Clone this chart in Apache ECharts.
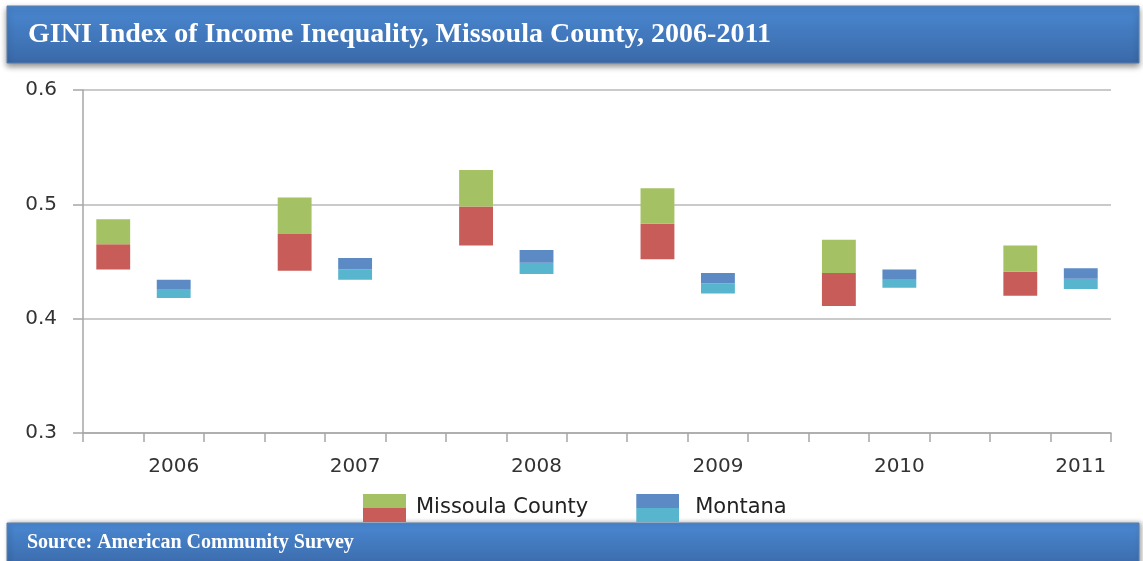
<!DOCTYPE html>
<html lang="en">
<head>
    <meta charset="UTF-8">
    <title>GINI Index of Income Inequality</title>
    <style type="text/css">
        html, body{
            margin: 0;
            padding: 0;
            background-color: #ffffff;
        }
        #gini{
            width: 1143px;
            height: 561px;
        }
    </style>
</head>
<body>
<div id="gini"></div>
</body>
<script src="https://cdn.jsdelivr.net/npm/echarts@6/dist/echarts.min.js"></script>

<script type="text/javascript">
    var years = ['2006', '2007', '2008', '2009', '2010', '2011'];

    // margin of error range: low / estimate / high
    var missoulaLow  = [0.443, 0.442, 0.464, 0.452, 0.411, 0.420];
    var missoulaEst  = [0.465, 0.474, 0.498, 0.483, 0.440, 0.441];
    var missoulaHigh = [0.487, 0.506, 0.530, 0.514, 0.469, 0.464];

    var montanaLow  = [0.418, 0.434, 0.439, 0.422, 0.427, 0.426];
    var montanaEst  = [0.426, 0.443, 0.449, 0.431, 0.434, 0.435];
    var montanaHigh = [0.434, 0.453, 0.460, 0.440, 0.443, 0.444];

    var yTicks = {min: 0.3, max: 0.6, interval: 0.1};

    // each year gets 3 slots: missoula, montana (labelled), empty gap
    var cats = [];
    var mBase = [], mRed = [], mGreen = [];
    var tBase = [], tCyan = [], tBlue = [];
    for (var i = 0; i < years.length; i++) {
        cats.push('');
        mBase.push(missoulaLow[i]);
        mRed.push(+(missoulaEst[i] - missoulaLow[i]).toFixed(4));
        mGreen.push(+(missoulaHigh[i] - missoulaEst[i]).toFixed(4));
        tBase.push('-'); tCyan.push('-'); tBlue.push('-');

        cats.push(years[i]);
        mBase.push('-'); mRed.push('-'); mGreen.push('-');
        tBase.push(montanaLow[i]);
        tCyan.push(+(montanaEst[i] - montanaLow[i]).toFixed(4));
        tBlue.push(+(montanaHigh[i] - montanaEst[i]).toFixed(4));

        if (i < years.length - 1) {
            cats.push('');
            mBase.push('-'); mRed.push('-'); mGreen.push('-');
            tBase.push('-'); tCyan.push('-'); tBlue.push('-');
        }
    }

    function twoTone(top, bottom, w, h) {
        var svg = '<svg xmlns="http://www.w3.org/2000/svg" width="' + w + '" height="' + h + '">' +
            '<rect x="0" y="0" width="' + w + '" height="' + (h / 2) + '" fill="' + top + '"/>' +
            '<rect x="0" y="' + (h / 2) + '" width="' + w + '" height="' + (h / 2) + '" fill="' + bottom + '"/>' +
            '</svg>';
        return 'image://data:image/svg+xml;charset=utf-8,' + encodeURIComponent(svg);
    }

    var green = '#a4c263', red = '#c85c58', blue = '#5b8ac4', cyan = '#57b5cd';

    var bannerFill = new echarts.graphic.LinearGradient(0, 0, 0, 1, [
        {offset: 0, color: '#4a88d2'},
        {offset: 1, color: '#3a69a8'}
    ]);

    var gini_chart = echarts.init(document.getElementById('gini'));
    gini_chart.setOption({
    animation: false,
    graphic: [
        {
            type: 'rect', z: 0,
            shape: {x: 7, y: 6, width: 1132, height: 57},
            style: {fill: bannerFill, stroke: '#5a7fae', lineWidth: 1,
                shadowBlur: 6, shadowOffsetY: 3, shadowColor: 'rgba(0,0,0,0.45)'}
        },
        {
            type: 'rect', z: 0,
            shape: {x: 7, y: 523, width: 1132, height: 45},
            style: {fill: bannerFill, stroke: '#5a7fae', lineWidth: 1,
                shadowBlur: 5, shadowOffsetX: 2, shadowColor: 'rgba(0,0,0,0.35)'}
        }
    ],
    title: [
        {
            text: 'GINI Index of Income Inequality, Missoula County, 2006-2011',
            left: 23, top: 16, z: 10,
            textStyle: {color: '#ffffff', fontFamily: 'Liberation Serif', fontWeight: 'bold', fontSize: 28}
        },
        {
            text: 'Source: American Community Survey',
            left: 22, top: 528, z: 10,
            textStyle: {color: '#ffffff', fontFamily: 'Liberation Serif', fontWeight: 'bold', fontSize: 20}
        }
    ],
    legend: {
        left: 358, top: 489,
        itemWidth: 43, itemHeight: 28,
        itemGap: 48,
        selectedMode: false,
        textStyle: {color: '#222222', fontFamily: 'DejaVu Sans', fontSize: 21},
        data: [
            {name: 'Missoula County', icon: twoTone(green, red, 43, 28),
                textStyle: {padding: [0, 0, 0, 5]}},
            {name: 'Montana', icon: twoTone(blue, cyan, 43, 28),
                textStyle: {padding: [0, 0, 0, 11]}}
        ]
    },
    grid: {
        left: 83,
        right: 32,
        top: 90,
        bottom: 128
    },
    xAxis: {
        type: 'category',
        data: cats,
        axisLine: {lineStyle: {color: '#a6a6a6', width: 1.5}},
        axisTick: {show: true, interval: 0, length: 9, lineStyle: {color: '#a6a6a6', width: 1.5}},
        axisLabel: {interval: 0, margin: 24, color: '#333333', fontFamily: 'DejaVu Sans', fontSize: 20}
    },
    yAxis: {
        type: 'value',
        min: yTicks.min,
        max: yTicks.max,
        interval: yTicks.interval,
        axisLine: {show: true, lineStyle: {color: '#a6a6a6', width: 1.5}},
        axisTick: {show: true, length: 10, lineStyle: {color: '#a6a6a6', width: 1.5}},
        axisLabel: {
            margin: 26, color: '#333333', fontFamily: 'DejaVu Sans', fontSize: 20,
            formatter: function (v) { return v.toFixed(1); }
        },
        splitLine: {lineStyle: {color: '#b8b8b8', width: 1.5}}
    },
    series: [
        {name: 'mbase', type: 'bar', stack: 'ci', barCategoryGap: '44%', data: mBase,
            itemStyle: {color: 'rgba(0,0,0,0)'}, silent: true},
        {name: 'Missoula low', type: 'bar', stack: 'ci', data: mRed, itemStyle: {color: red}},
        {name: 'Missoula County', type: 'bar', stack: 'ci', data: mGreen, itemStyle: {color: green}},
        {name: 'tbase', type: 'bar', stack: 'ci', data: tBase,
            itemStyle: {color: 'rgba(0,0,0,0)'}, silent: true},
        {name: 'Montana low', type: 'bar', stack: 'ci', data: tCyan, itemStyle: {color: cyan}},
        {name: 'Montana', type: 'bar', stack: 'ci', data: tBlue, itemStyle: {color: blue}}
    ]
    });
</script>

</html>
